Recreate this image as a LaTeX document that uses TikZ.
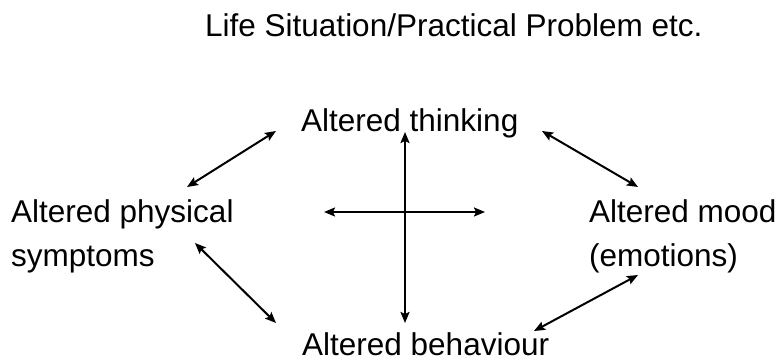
\documentclass[tikz,border=0pt]{standalone}
\usepackage{fontspec}
\setmainfont{Liberation Sans}
\usetikzlibrary{arrows.meta}
\begin{document}
\begin{tikzpicture}[x=1pt,y=-1pt,
  lbl/.style={inner sep=0pt,anchor=base west,align=left,font=\fontsize{31.5}{44}\selectfont},
  arr/.style={line width=2pt,{Stealth[length=11pt,width=9pt,inset=2pt]}-{Stealth[length=11pt,width=9pt,inset=2pt]}}]
\useasboundingbox (0,0) rectangle (779,363);
\node[lbl] (title) at (205,37) {Life Situation/Practical Problem etc.};
\node[lbl] (think) at (301,132) {Altered thinking};
\node[lbl] (phys) at (11,267) {Altered physical\\symptoms};
\node[lbl] (mood) at (589,267) {Altered mood\\(emotions)};
\node[lbl] (behav) at (302,355) {Altered behaviour};
% connector end points
\coordinate (tl1) at (187,187); \coordinate (tl2) at (276,131);
\coordinate (tr1) at (542,131); \coordinate (tr2) at (638,187);
\coordinate (bl1) at (195,243); \coordinate (bl2) at (276,323);
\coordinate (br1) at (638,275); \coordinate (br2) at (534,331);
\coordinate (vt) at (405,132); \coordinate (vb) at (405,323);
\coordinate (hl) at (324,212); \coordinate (hr) at (485,212);
\draw[arr] (tl1) -- (tl2);
\draw[arr] (tr1) -- (tr2);
\draw[arr] (bl1) -- (bl2);
\draw[arr] (br1) -- (br2);
\draw[arr] (vt) -- (vb);
\draw[arr] (hl) -- (hr);
\end{tikzpicture}
\end{document}
